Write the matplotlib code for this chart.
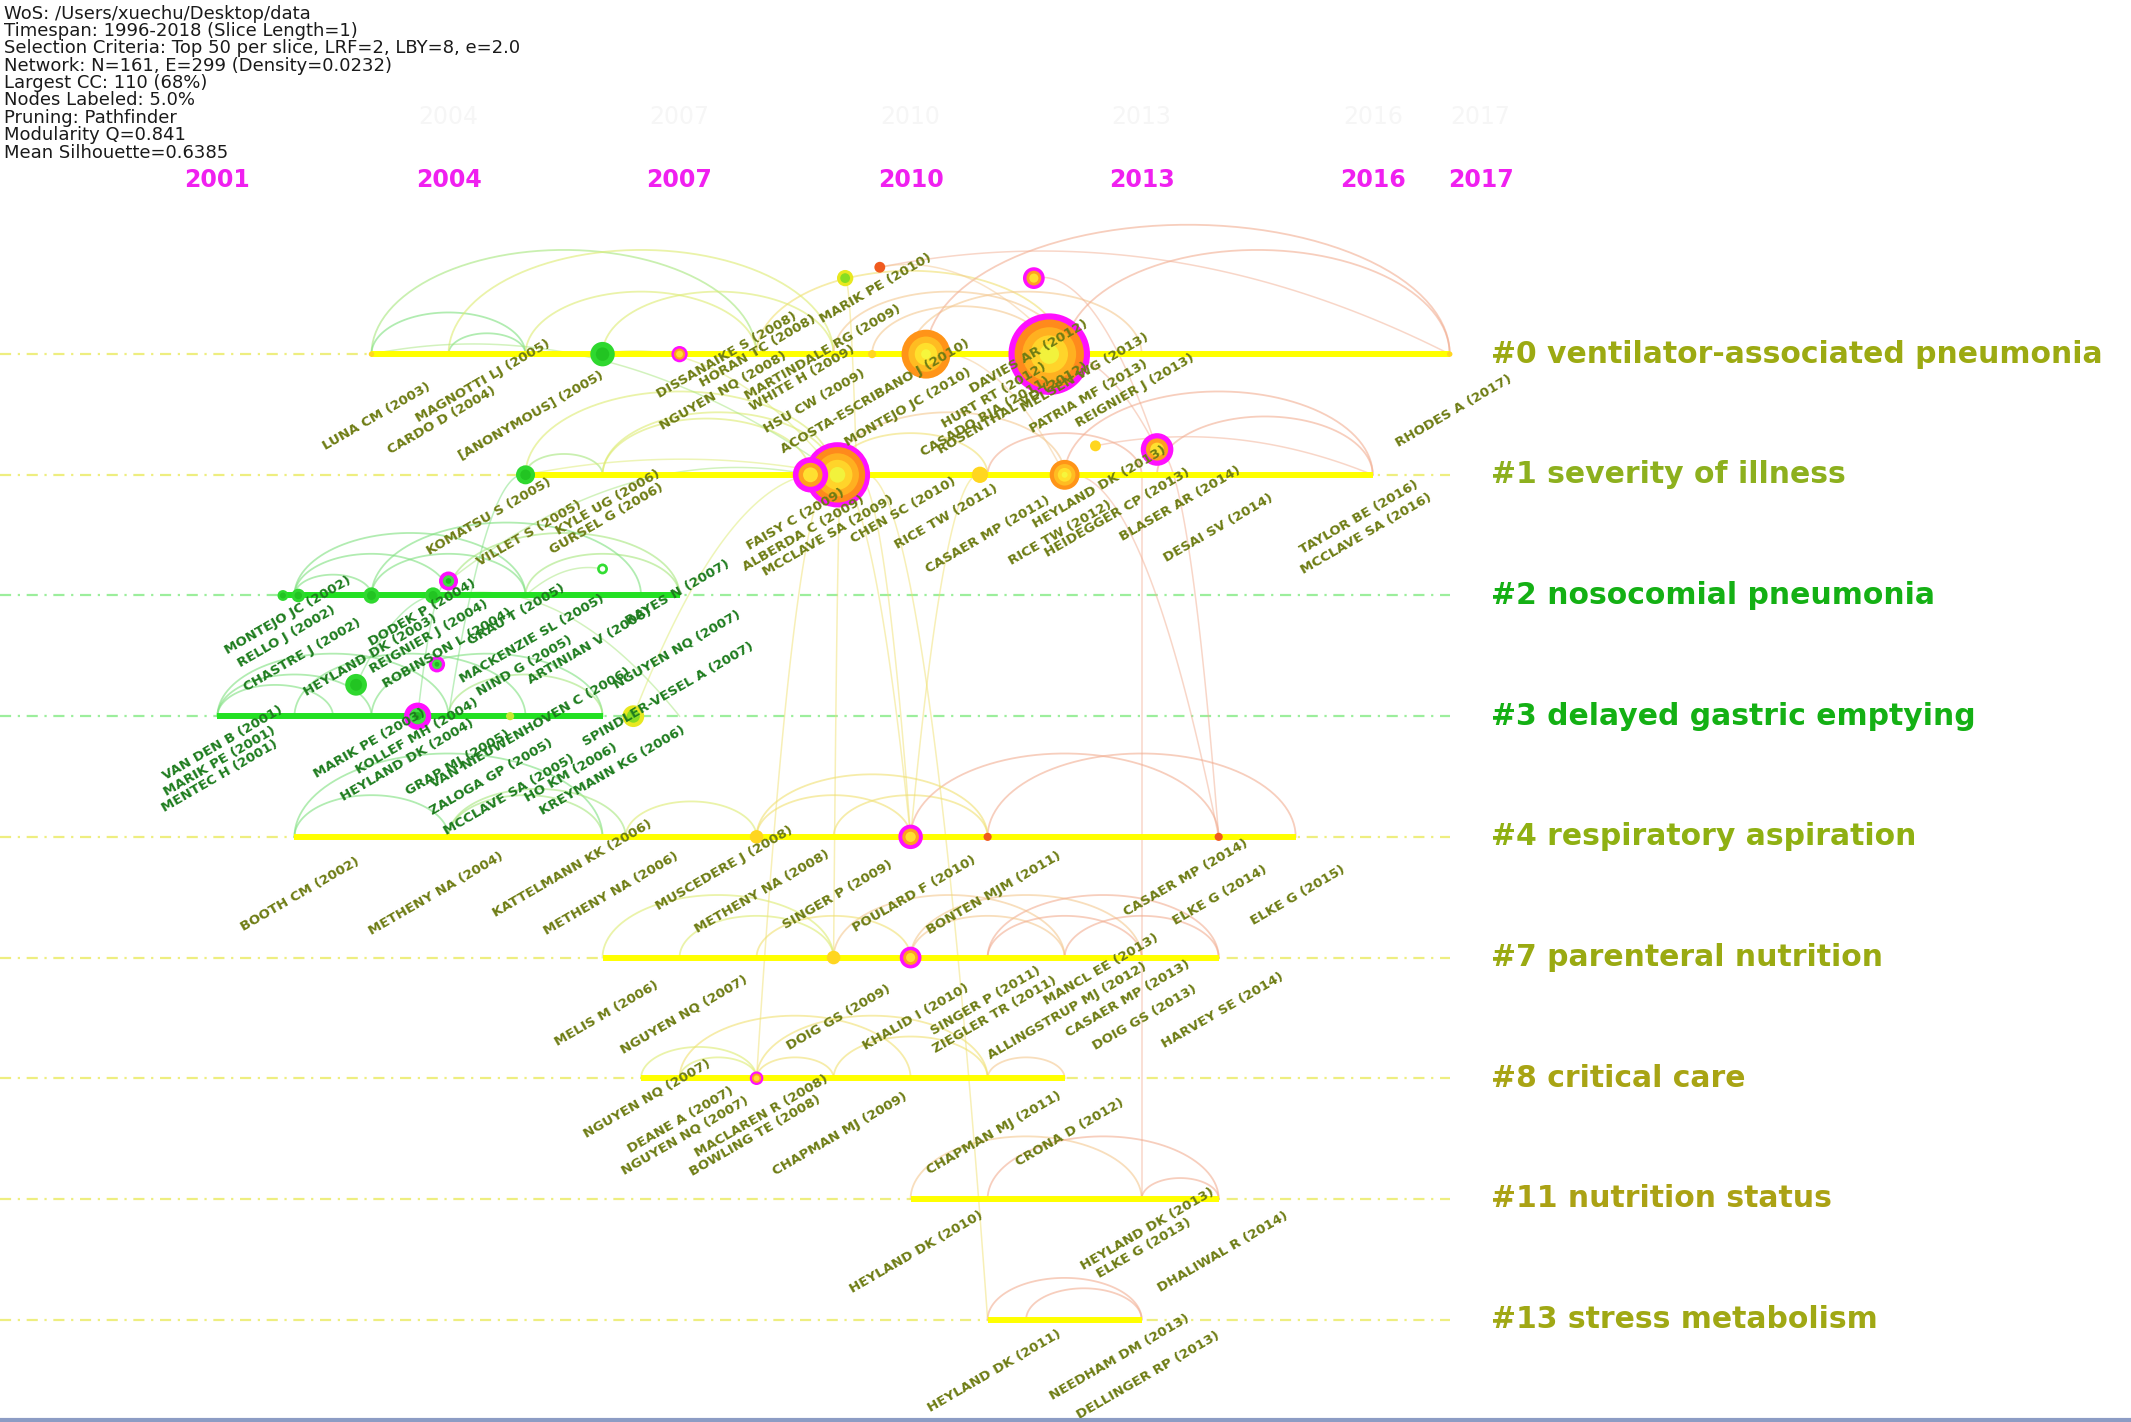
import matplotlib
matplotlib.use("Agg")
import matplotlib.pyplot as plt
import numpy as np

# header block (top left)
info_lines = [
    "WoS: /Users/xuechu/Desktop/data",
    "Timespan: 1996-2018 (Slice Length=1)",
    "Selection Criteria: Top 50 per slice, LRF=2, LBY=8, e=2.0",
    "Network: N=161, E=299 (Density=0.0232)",
    "Largest CC: 110 (68%)",
    "Nodes Labeled: 5.0%",
    "Pruning: Pathfinder",
    "Modularity Q=0.841",
    "Mean Silhouette=0.6385",
]
year_ticks = [2001, 2004, 2007, 2010, 2013, 2016, 2017]

# clusters, one timeline each
clusters = ["#0 ventilator-associated pneumonia", "#1 severity of illness",
            "#2 nosocomial pneumonia", "#3 delayed gastric emptying",
            "#4 respiratory aspiration", "#7 parenteral nutrition",
            "#8 critical care", "#11 nutrition status", "#13 stress metabolism"]
cluster_start = [2003, 2005, 2001.8, 2001, 2002, 2006, 2006.5, 2010, 2011]
cluster_end = [2017, 2016, 2007, 2006, 2015, 2014, 2012, 2014, 2013]
cluster_green = [False, False, True, True, False, False, False, False, False]
cluster_color = ["#9CAA12", "#8DB01E", "#14B014", "#14B014", "#8FB012",
                 "#9AAA12", "#A8A414", "#ABA214", "#A0A814"]

# nodes: row (fractional = drawn off the line), year, radius, kind
node_row = [0, 0, 0, 0, 0, 0, 0,
            -0.63, -0.72, -0.63, 0.76, 0.79, 1.78, 1.88, 2.57, 2.74,
            1, 1, 1, 1, 1,
            2, 2, 2, 2,
            3, 3, 3,
            4, 4, 4, 4,
            5, 5,
            6]
node_year = [2003, 2006, 2007, 2009.5, 2010.2, 2011.8, 2017,
             2009.15, 2009.6, 2011.6, 2012.4, 2013.2, 2006, 2004, 2003.85, 2002.8,
             2005, 2008.7, 2009.05, 2010.9, 2012,
             2001.85, 2002.05, 2003, 2003.8,
             2003.6, 2004.8, 2006.4,
             2008, 2010, 2011, 2014,
             2009, 2010,
             2008]
node_size = [2, 9, 6, 3, 18, 30, 2,
             6, 4, 8, 4, 12, 4, 7, 6, 8,
             7, 13, 24, 6, 11,
             4, 5, 6, 6,
             10, 3, 8,
             5, 9, 3, 3,
             5, 8,
             5]
node_kind = ["y", "g", "m", "y", "o", "M", "y",
             "yg", "r", "m", "y", "m", "gr", "mg", "mg", "g",
             "g", "m", "M", "y", "o",
             "g", "g", "g", "g",
             "mg", "gy", "yg",
             "y", "m", "r", "r",
             "y", "m",
             "m"]

# node labels per cluster row
label_row = [0] * 21 + [1] * 17 + [2] * 12 + [3] * 14 + [4] * 12 + [5] * 11 + [6] * 8 + [7] * 4 + [8] * 3
label_text = [
    "LUNA CM (2003)", "CARDO D (2004)", "MAGNOTTI LJ (2005)", "[ANONYMOUS] (2005)",
    "DISSANAIKE S (2008)", "HORAN TC (2008)", "NGUYEN NQ (2008)", "MARIK PE (2010)",
    "MARTINDALE RG (2009)", "WHITE H (2009)", "HSU CW (2009)", "ACOSTA-ESCRIBANO J (2010)",
    "MONTEJO JC (2010)", "CASADO RJA (2011)", "HURT RT (2012)", "ROSENTHAL VD (2012)",
    "DAVIES AR (2012)", "MELSEN WG (2013)", "PATRIA MF (2013)", "REIGNIER J (2013)",
    "RHODES A (2017)",
    "KOMATSU S (2005)", "VILLET S (2005)", "KYLE UG (2006)", "GURSEL G (2006)",
    "FAISY C (2009)", "ALBERDA C (2009)", "MCCLAVE SA (2009)", "CHEN SC (2010)",
    "RICE TW (2011)", "CASAER MP (2011)", "HEYLAND DK (2013)", "RICE TW (2012)",
    "HEIDEGGER CP (2013)", "BLASER AR (2014)", "DESAI SV (2014)", "TAYLOR BE (2016)",
    "MCCLAVE SA (2016)",
    "MONTEJO JC (2002)", "RELLO J (2002)", "CHASTRE J (2002)", "HEYLAND DK (2003)",
    "DODEK P (2004)", "REIGNIER J (2004)", "ROBINSON L (2004)", "GRAU T (2005)",
    "MACKENZIE SL (2005)", "NIND G (2005)", "ARTINIAN V (2006)", "RAYES N (2007)",
    "VAN DEN B (2001)", "MARIK PE (2001)", "MENTEC H (2001)", "MARIK PE (2003)",
    "KOLLEF MH (2004)", "HEYLAND DK (2004)", "GRAP MJ (2005)", "VAN NIEUWENHOVEN C (2006)",
    "NGUYEN NQ (2007)", "SPINDLER-VESEL A (2007)", "ZALOGA GP (2005)", "MCCLAVE SA (2005)",
    "HO KM (2006)", "KREYMANN KG (2006)",
    "BOOTH CM (2002)", "METHENY NA (2004)", "KATTELMANN KK (2006)", "METHENY NA (2006)",
    "MUSCEDERE J (2008)", "METHENY NA (2008)", "SINGER P (2009)", "POULARD F (2010)",
    "BONTEN MJM (2011)", "CASAER MP (2014)", "ELKE G (2014)", "ELKE G (2015)",
    "MELIS M (2006)", "NGUYEN NQ (2007)", "DOIG GS (2009)", "KHALID I (2010)",
    "SINGER P (2011)", "ZIEGLER TR (2011)", "MANCL EE (2013)", "ALLINGSTRUP MJ (2012)",
    "CASAER MP (2013)", "DOIG GS (2013)", "HARVEY SE (2014)",
    "NGUYEN NQ (2007)", "DEANE A (2007)", "NGUYEN NQ (2007)", "MACLAREN R (2008)",
    "BOWLING TE (2008)", "CHAPMAN MJ (2009)", "CHAPMAN MJ (2011)", "CRONA D (2012)",
    "HEYLAND DK (2010)", "HEYLAND DK (2013)", "ELKE G (2013)", "DHALIWAL R (2014)",
    "HEYLAND DK (2011)", "NEEDHAM DM (2013)", "DELLINGER RP (2013)",
]

# co-citation arcs inside one row: row, year from, year to
arc_row = [0, 0, 0, 0, 0, 0, 0, 0, 0, 0, 0, 0,
           1, 1, 1, 1, 1, 1, 1, 1, 1,
           2, 2, 2, 2, 2, 2, 2,
           3, 3, 3, 3, 3, 3,
           4, 4, 4, 4, 4, 4, 4, 4, 4, 4,
           5, 5, 5, 5, 5, 5, 5, 5, 5,
           6, 6, 6, 6, 6, 6, 6,
           7, 7, 7,
           8, 8]
arc_from = [2003, 2003, 2004, 2005, 2004, 2006, 2008, 2009, 2010, 2012, 2010.2, 2009.5,
            2005, 2005, 2006, 2006, 2009, 2009, 2011, 2012, 2013.2,
            2002, 2002, 2002, 2003, 2004, 2005, 2003,
            2001, 2001, 2003, 2004, 2001, 2002,
            2002, 2002, 2004, 2004, 2006.3, 2008, 2009, 2010, 2011, 2008,
            2006, 2007, 2009, 2010, 2011, 2010, 2011, 2012, 2008,
            2006.5, 2007, 2008, 2008, 2009, 2011, 2007,
            2010, 2011, 2013,
            2011, 2011.5]
arc_to = [2008, 2005, 2005, 2008, 2009, 2009, 2012, 2012, 2013, 2017, 2017, 2011.8,
          2009, 2006, 2009, 2008.7, 2011, 2012, 2013, 2016, 2016,
          2005, 2004, 2003, 2005, 2007, 2007, 2006.5,
          2003, 2004, 2006, 2006, 2002.5, 2005,
          2004, 2006, 2006, 2006.3, 2008, 2010, 2011, 2014, 2015, 2011,
          2009, 2009, 2012, 2013, 2014, 2012, 2013, 2014, 2010,
          2008, 2008, 2009, 2011, 2011, 2012, 2010,
          2013, 2014, 2014,
          2013, 2013]

# links between rows: year a, row a, year b, row b
cross_links = [
    (2013, 1.0, 2013, 7.0), (2009.15, -0.63, 2009.3, 1.0), (2009.0, 1.0, 2010, 4.0),
    (2009.3, 1.0, 2010, 4.0), (2010.9, 1.0, 2010, 4.0), (2012, 1.0, 2014, 4.0),
    (2009.4, 1.0, 2011, 8.0), (2009.0, 1.0, 2008, 6.0), (2009.1, 1.0, 2009, 5.0),
    (2005, 1.0, 2004, 3.0), (2004, 1.88, 2003.6, 3.0), (2006, 1.78, 2005, 2.0),
    (2009.6, -0.72, 2017, 0.0), (2009.6, -0.72, 2012, 0.0), (2011.6, -0.63, 2013.2, 0.79),
    (2013.2, 0.79, 2014, 4.0), (2006, 0.0, 2009.05, 1.0), (2005, 1.0, 2009.05, 1.0),
    (2003, 0.0, 2009.05, 1.0), (2004, 1.88, 2008.7, 1.0), (2012.4, 0.76, 2016, 1.0),
    (2011.8, 0.0, 2013.2, 0.79), (2010.2, 0.0, 2012, 1.0), (2004, 2.0, 2007, 3.0),
    (2006.4, 3.0, 2009.05, 1.0), (2002.8, 2.74, 2004, 2.0),
]

# ---- layout (display-pixel nudges of each label centre) ----
label_nudge = [
    (4, 2), (-5, 5), (-31, -24), (4, 1), (-22, -43), (1, -46), (-25, -17), (-26, -92),
    (-8, -45), (-23, -26), (-14, -9), (-26, -13), (-2, -5), (-2, 2), (-52, -14),
    (-38, -4), (-26, -42), (-42, -30), (-39, -13), (-5, -17), (3, -2),
    (-27, -13), (3, -1), (4, -24), (3, -12), (-28, -11), (-22, -1), (-4, 1), (-5, -18),
    (-30, -13), (0, 0), (-31, -35), (-3, -1), (-18, -16), (-28, -23), (0, -5),
    (-10, -13), (-5, -1),
    (-5, -29), (-6, -14), (6, 0), (-1, 0), (-19, -31), (-14, -14), (-1, -5), (-7, -30),
    (5, -12), (-1, 8), (-9, -7), (-1, -46),
    (4, -24), (2, -11), (2, 0), (-1, -24), (-23, -29), (-30, -12), (-50, -10),
    (-53, -35), (-2, -93), (-8, -60), (-25, 1), (-12, 14), (-23, -2), (7, -4),
    (4, -2), (-9, -2), (-22, -21), (6, -2), (-24, -21), (4, -4), (3, -1), (3, -2),
    (5, -3), (-24, -14), (1, -1), (2, -1),
    (3, -3), (3, -2), (4, 0), (4, 0), (-1, -12), (5, -2), (-30, -35), (2, -5),
    (-10, -14), (2, 0), (3, -5),
    (-24, -29), (1, -13), (4, -2), (4, -16), (-1, -2), (5, -3), (5, -4), (4, -4),
    (4, -5), (4, -22), (2, -8), (3, -5),
    (5, -6), (-16, -16), (5, -3),
]

# display frame used for reading: 1568 x 1044, 2001 at x=160, row #0 at y=260
PX_YEAR = 56.67
PX_ROW = 88.6
x_min = 2001 - 160 / PX_YEAR
x_max = x_min + 1568 / PX_YEAR
y_top = -260 / PX_ROW
y_bot = y_top + 1044 / PX_ROW

fig = plt.figure(figsize=(21.31, 14.22), dpi=100)
fig.patch.set_facecolor("white")
ax = fig.add_axes([0, 0, 1, 1])
ax.set_xlim(x_min, x_max)
ax.set_ylim(y_bot, y_top)
ax.axis("off")


def link_color(a, b):
    m = (a + b) / 2
    if m < 2005:
        return "#7EE07E"
    if m < 2006.5:
        return "#A6E67C"
    if m < 2008.5:
        return "#DDEB70"
    if m < 2010.5:
        return "#F0E070"
    if m < 2012:
        return "#F4C890"
    return "#F2AE92"


# timelines
for i in range(len(clusters)):
    dash_c = "#9CEE9C" if cluster_green[i] else "#EEEE80"
    line_c = "#22E022" if cluster_green[i] else "#FFFF00"
    ax.plot([x_min, 2017], [i, i], color=dash_c, lw=1.6, ls=(0, (5, 3, 1, 3)), zorder=1)
    ax.plot([cluster_start[i], cluster_end[i]], [i, i], color=line_c, lw=4.3,
            solid_capstyle="butt", zorder=3)
    ax.text(2017.53, i, clusters[i], color=cluster_color[i], fontsize=21.5,
            fontweight="bold", va="center", ha="left", zorder=6)

# arcs inside rows
t = np.linspace(0, np.pi, 60)
for r, a, b in zip(arc_row, arc_from, arc_to):
    xs = a + (b - a) * (1 - np.cos(t)) / 2
    h = min(0.27 * (b - a) * PX_YEAR, 95) / PX_ROW
    ys = r - h * np.sin(t)
    ax.plot(xs, ys, color=link_color(a, b), lw=1.3, alpha=0.6, zorder=2)

# links between rows (quadratic curves)
s = np.linspace(0, 1, 60)
for xa, ra, xb, rb in cross_links:
    cx = (xa + xb) / 2
    cy = min(ra, rb) - 0.1 * abs(xb - xa) * PX_YEAR / PX_ROW
    xs = (1 - s) ** 2 * xa + 2 * (1 - s) * s * cx + s ** 2 * xb
    ys = (1 - s) ** 2 * ra + 2 * (1 - s) * s * cy + s ** 2 * rb
    ax.plot(xs, ys, color=link_color(xa, xb), lw=1.1, alpha=0.5, zorder=2)

# nodes as ring layers
rings = {
    "M": [("#FF10FF", 1.0), ("#FF8A1C", 0.85), ("#FFB020", 0.66), ("#FFD42A", 0.46), ("#F2F23C", 0.24)],
    "o": [("#FF9418", 1.0), ("#FFBC22", 0.72), ("#FFE02C", 0.46), ("#F6F63C", 0.2)],
    "m": [("#FF10FF", 1.0), ("#FFA020", 0.68), ("#FFE030", 0.42)],
    "mg": [("#FF10FF", 1.0), ("#44DD44", 0.6), ("#22BB22", 0.3)],
    "g": [("#2FD82F", 1.0), ("#22C422", 0.55)],
    "y": [("#FFD620", 1.0)],
    "r": [("#F05A1E", 1.0)],
    "yg": [("#E8E820", 1.0), ("#88DD22", 0.6)],
    "gy": [("#C8E830", 1.0)],
    "gr": [("#33DD33", 1.0), ("white", 0.5)],
}
order = np.argsort(node_size)[::-1]
for k in order:
    for col, f in rings[node_kind[k]]:
        d = 2 * node_size[k] * f * 1.359 * 0.72
        ax.scatter(node_year[k], node_row[k], s=d ** 2, color=col, edgecolors="none", zorder=4)

# node labels
for r, txt, (dx, dy) in zip(label_row, label_text, label_nudge):
    yr = int(txt[-5:-1])
    col = "#1E7C1E" if cluster_green[r] else "#6E7C14"
    ax.text(yr + dx / PX_YEAR, r + (44 + dy) / PX_ROW, txt, rotation=30,
            rotation_mode="anchor", ha="center", va="center", fontsize=9.6,
            fontweight="bold", color=col, zorder=5)

# year ticks (faint ghost row behind header + magenta row)
for yr in year_ticks:
    xpos = yr + (0.4 if yr == 2017 else 0)
    if yr > 2001:
        ax.text(xpos, (86 - 260) / PX_ROW, str(yr), color="#F6F6F6", fontsize=17,
                ha="center", va="center", zorder=0)
    ax.text(xpos, (132 - 260) / PX_ROW, str(yr), color="#F020F0", fontsize=17,
            fontweight="bold", ha="center", va="center", zorder=6)

# header
for i, line in enumerate(info_lines):
    fig.text(0.002, 1 - (10 + 12.75 * i) / 1044, line, fontsize=13, color="#1A1A1A",
             ha="left", va="center")

# window edge at the bottom
ax.plot([x_min, x_max], [y_bot - 0.02, y_bot - 0.02], color="#8C9CC4", lw=3, zorder=7)

fig.savefig("out.png", dpi=100)
